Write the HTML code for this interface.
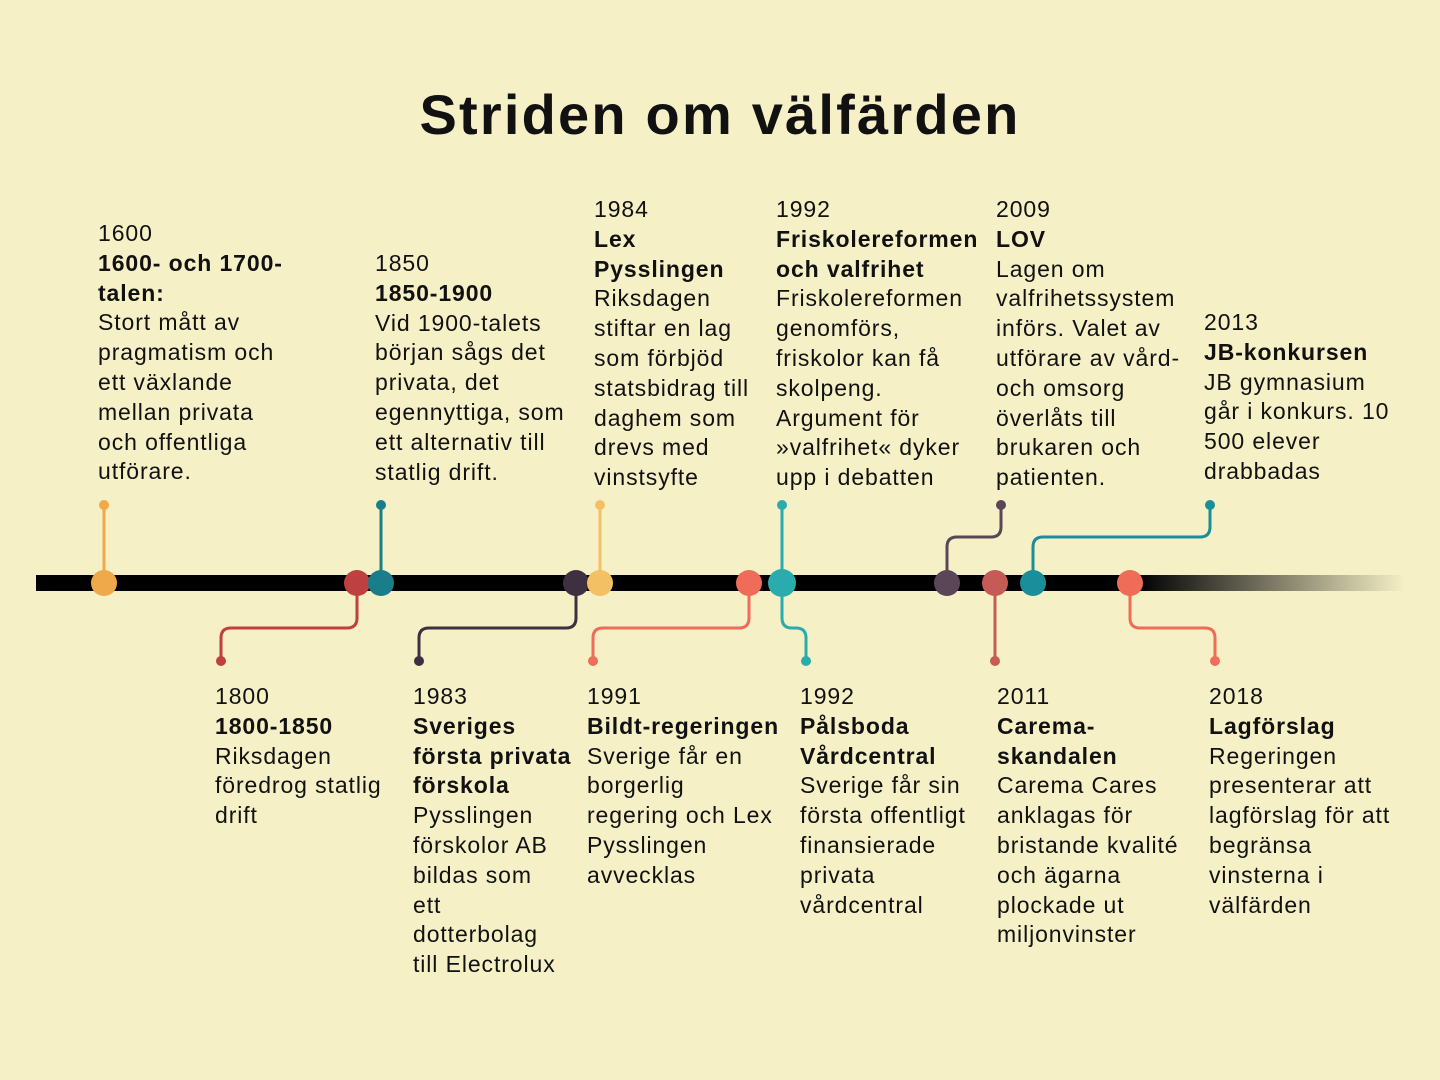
<!DOCTYPE html>
<html><head><meta charset="utf-8"><style>
body{margin:0;width:1440px;height:1080px;background:#F6F0C6;position:relative;overflow:hidden;font-family:"Liberation Sans",sans-serif;color:#111;}
h1{position:absolute;left:0;width:1440px;top:82px;margin:0;text-align:center;font-size:56px;font-weight:bold;letter-spacing:2.2px;}
.t{position:absolute;font-size:23px;line-height:29.8px;white-space:nowrap;letter-spacing:0.9px;}
.t b{font-weight:bold;}
svg{position:absolute;left:0;top:0;}
</style></head><body>
<h1>Striden om välfärden</h1>
<svg width="1440" height="1080">
<defs><linearGradient id="g" x1="0" x2="1"><stop offset="0" stop-color="#000"/><stop offset="1" stop-color="#000" stop-opacity="0"/></linearGradient></defs>
<rect x="36" y="575" width="1104" height="16" fill="#000"/>
<rect x="1138" y="575" width="267" height="16" fill="url(#g)"/>
<g fill="none" stroke-width="3">
<path d="M104 583V505" stroke="#EFA94A"/>
<path d="M357 583V618q0 10-10 10H231q-10 0-10 10V660" stroke="#BF4040"/>
<path d="M381 583V505" stroke="#1A7E8A"/>
<path d="M576 583V618q0 10-10 10H429q-10 0-10 10V660" stroke="#3E3040"/>
<path d="M600 583V505" stroke="#F3C063"/>
<path d="M749 583V618q0 10-10 10H603q-10 0-10 10V660" stroke="#EE6C58"/>
<path d="M782 583V505M782 583V618q0 10 10 10h4q10 0 10 10V660" stroke="#2AACAF"/>
<path d="M947 583V547q0-10 10-10h34q10 0 10-10V505" stroke="#5B4658"/>
<path d="M995 583V660" stroke="#C65A55"/>
<path d="M1033 583V547q0-10 10-10h157q10 0 10-10V505" stroke="#1A8F9B"/>
<path d="M1130 583V618q0 10 10 10h65q10 0 10 10V660" stroke="#EE6C58"/>
</g>
<g>
<circle cx="104" cy="505" r="5" fill="#EFA94A"/><circle cx="104" cy="583" r="13" fill="#EFA94A"/>
<circle cx="221" cy="661" r="5" fill="#BF4040"/><circle cx="357" cy="583" r="13" fill="#BF4040"/>
<circle cx="381" cy="505" r="5" fill="#1A7E8A"/><circle cx="381" cy="583" r="13" fill="#1A7E8A"/>
<circle cx="419" cy="661" r="5" fill="#3E3040"/><circle cx="576" cy="583" r="13" fill="#3E3040"/>
<circle cx="600" cy="505" r="5" fill="#F3C063"/><circle cx="600" cy="583" r="13" fill="#F3C063"/>
<circle cx="593" cy="661" r="5" fill="#EE6C58"/><circle cx="749" cy="583" r="13" fill="#EE6C58"/>
<circle cx="782" cy="505" r="5" fill="#2AACAF"/><circle cx="806" cy="661" r="5" fill="#2AACAF"/><circle cx="782" cy="583" r="14" fill="#2AACAF"/>
<circle cx="1001" cy="505" r="5" fill="#5B4658"/><circle cx="947" cy="583" r="13" fill="#5B4658"/>
<circle cx="995" cy="661" r="5" fill="#C65A55"/><circle cx="995" cy="583" r="13" fill="#C65A55"/>
<circle cx="1210" cy="505" r="5" fill="#1A8F9B"/><circle cx="1033" cy="583" r="13" fill="#1A8F9B"/>
<circle cx="1215" cy="661" r="5" fill="#EE6C58"/><circle cx="1130" cy="583" r="13" fill="#EE6C58"/>
</g>
</svg>
<div class="t" style="left:98px;top:219px">1600<br><b>1600- och 1700-</b><br><b>talen:</b><br>Stort mått av<br>pragmatism och<br>ett växlande<br>mellan privata<br>och offentliga<br>utförare.</div>
<div class="t" style="left:375px;top:249px">1850<br><b>1850-1900</b><br>Vid 1900-talets<br>början sågs det<br>privata, det<br>egennyttiga, som<br>ett alternativ till<br>statlig drift.</div>
<div class="t" style="left:594px;top:195px">1984<br><b>Lex</b><br><b>Pysslingen</b><br>Riksdagen<br>stiftar en lag<br>som förbjöd<br>statsbidrag till<br>daghem som<br>drevs med<br>vinstsyfte</div>
<div class="t" style="left:776px;top:195px">1992<br><b>Friskolereformen</b><br><b>och valfrihet</b><br>Friskolereformen<br>genomförs,<br>friskolor kan få<br>skolpeng.<br>Argument för<br>»valfrihet« dyker<br>upp i debatten</div>
<div class="t" style="left:996px;top:195px">2009<br><b>LOV</b><br>Lagen om<br>valfrihetssystem<br>införs. Valet av<br>utförare av vård-<br>och omsorg<br>överlåts till<br>brukaren och<br>patienten.</div>
<div class="t" style="left:1204px;top:308px">2013<br><b>JB-konkursen</b><br>JB gymnasium<br>går i konkurs. 10<br>500 elever<br>drabbadas</div>
<div class="t" style="left:215px;top:682px">1800<br><b>1800-1850</b><br>Riksdagen<br>föredrog statlig<br>drift</div>
<div class="t" style="left:413px;top:682px">1983<br><b>Sveriges</b><br><b>första privata</b><br><b>förskola</b><br>Pysslingen<br>förskolor AB<br>bildas som<br>ett<br>dotterbolag<br>till Electrolux</div>
<div class="t" style="left:587px;top:682px">1991<br><b>Bildt-regeringen</b><br>Sverige får en<br>borgerlig<br>regering och Lex<br>Pysslingen<br>avvecklas</div>
<div class="t" style="left:800px;top:682px">1992<br><b>Pålsboda</b><br><b>Vårdcentral</b><br>Sverige får sin<br>första offentligt<br>finansierade<br>privata<br>vårdcentral</div>
<div class="t" style="left:997px;top:682px">2011<br><b>Carema-</b><br><b>skandalen</b><br>Carema Cares<br>anklagas för<br>bristande kvalité<br>och ägarna<br>plockade ut<br>miljonvinster</div>
<div class="t" style="left:1209px;top:682px">2018<br><b>Lagförslag</b><br>Regeringen<br>presenterar att<br>lagförslag för att<br>begränsa<br>vinsterna i<br>välfärden</div>
</body></html>
